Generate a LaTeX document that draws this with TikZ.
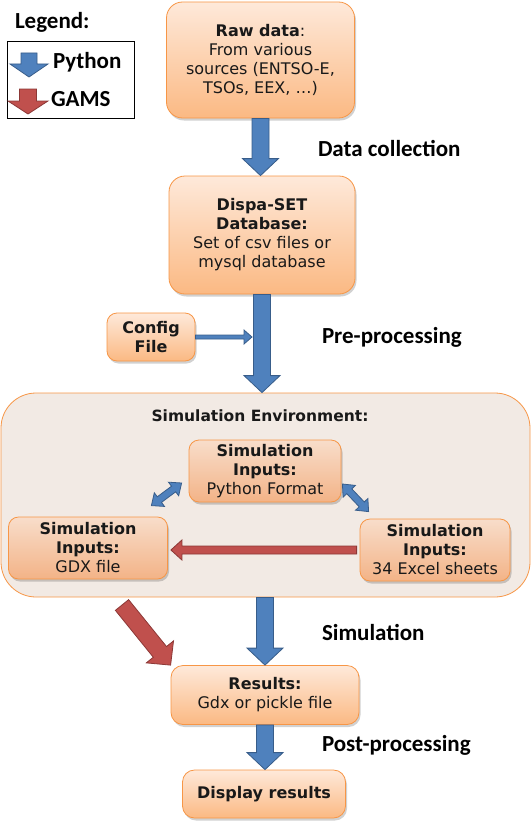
\documentclass[tikz,border=0pt]{standalone}
\usepackage{fontspec}
\setmainfont{DejaVu Sans}
\newfontfamily\calibri{Carlito}
\usepackage{xcolor}
\usepackage{tikz}
\usetikzlibrary{positioning}
\usetikzlibrary{calc}
\usetikzlibrary{shadows}

\definecolor{boxTop}{HTML}{FEE9DA}
\definecolor{boxBottom}{HTML}{FBB983}
\definecolor{boxEdge}{HTML}{F79646}
\definecolor{innerTop}{HTML}{F8DDCA}
\definecolor{innerBottom}{HTML}{F3B387}
\definecolor{envFill}{HTML}{F2EAE4}
\definecolor{pyFill}{HTML}{4F81BD}
\definecolor{pyEdge}{HTML}{385D8A}
\definecolor{gamsFill}{HTML}{C0504D}
\definecolor{gamsEdge}{HTML}{8C3836}

\newcommand{\boxFont}{\fontsize{16}{19}\selectfont}
\newcommand{\labelFont}{\calibri\bfseries\fontsize{23}{27}\selectfont}

% block arrow: style, from, to, half shaft, half head, head length
\newcommand{\blockArrow}[6]{%
	\coordinate (tipBase) at ($(#3)!#6!(#2)$);
	\draw[#1] ($(#2)!#4!90:(#3)$) -- ($(tipBase)!#4!90:(#3)$) -- ($(tipBase)!#5!90:(#3)$) -- (#3) -- ($(tipBase)!#5!-90:(#3)$) -- ($(tipBase)!#4!-90:(#3)$) -- ($(#2)!#4!-90:(#3)$) -- cycle;
}
% same with a head at both ends
\newcommand{\blockArrowBoth}[6]{%
	\coordinate (tipBaseA) at ($(#2)!#6!(#3)$);
	\coordinate (tipBaseB) at ($(#3)!#6!(#2)$);
	\draw[#1] (#2) -- ($(tipBaseA)!#5!90:(#3)$) -- ($(tipBaseA)!#4!90:(#3)$) -- ($(tipBaseB)!#4!90:(#3)$) -- ($(tipBaseB)!#5!90:(#3)$) -- (#3) -- ($(tipBaseB)!#5!-90:(#3)$) -- ($(tipBaseB)!#4!-90:(#3)$) -- ($(tipBaseA)!#4!-90:(#3)$) -- ($(tipBaseA)!#5!-90:(#3)$) -- cycle;
}

\begin{document}
\begin{tikzpicture}[
		mainBox/.style = { rectangle, rounded corners = 1.6*\oneUnit, draw = boxEdge, line width = 0.8pt, top color = boxTop, bottom color = boxBottom, text = black!90, align = center, font = \boxFont, inner sep = 2pt, drop shadow = {shadow xshift = 0.15*\oneUnit, shadow yshift = -0.25*\oneUnit, opacity = 0.18, fill = black} },
		innerBox/.style = { mainBox, rounded corners = 1.0*\oneUnit, top color = innerTop, bottom color = innerBottom },
		envBox/.style = { rectangle, rounded corners = 3.5*\oneUnit, draw = boxEdge, line width = 0.8pt, fill = envFill },
		legendBox/.style = { rectangle, draw = black, line width = 1pt },
		word/.style = { font = \labelFont, inner sep = 0pt, outer sep = 0pt, anchor = west, text = black },
		title/.style = { font = \fontsize{15.5}{18}\selectfont\bfseries, inner sep = 0pt, text = black!90 },
		pyArrow/.style = { fill = pyFill, draw = pyEdge, line width = 0.8pt },
		gamsArrow/.style = { fill = gamsFill, draw = gamsEdge, line width = 0.8pt },
	]
	\def\oneUnit{10pt}
	\useasboundingbox (0,0) rectangle (53.2*\oneUnit, -82.4*\oneUnit);
	
	% legend
	\node[word] (legendTitle) at (1.5*\oneUnit, -2.2*\oneUnit) {Legend:};
	\node[legendBox, minimum width = 12.7*\oneUnit, minimum height = 7.6*\oneUnit] (legend) at (7.05*\oneUnit, -8.0*\oneUnit) {};
	\coordinate (pyIconTop) at (2.9*\oneUnit, -5.3*\oneUnit);
	\coordinate (pyIconTip) at (2.9*\oneUnit, -7.7*\oneUnit);
	\coordinate (gamsIconTop) at (2.8*\oneUnit, -8.9*\oneUnit);
	\coordinate (gamsIconTip) at (2.8*\oneUnit, -11.4*\oneUnit);
	\node[word] (pythonWord) at (5.3*\oneUnit, -6.2*\oneUnit) {Python};
	\node[word] (gamsWord) at (5.1*\oneUnit, -9.9*\oneUnit) {GAMS};
	
	% main column
	\node[mainBox, minimum width = 18.8*\oneUnit, minimum height = 11.6*\oneUnit] (raw) at (26.05*\oneUnit, -6.0*\oneUnit) {\textbf{Raw data}:\\From various\\sources (ENTSO-E,\\TSOs, EEX, …)};
	\node[mainBox, minimum width = 18.6*\oneUnit, minimum height = 11.8*\oneUnit] (dispa) at (26.2*\oneUnit, -23.5*\oneUnit) {\textbf{Dispa-SET}\\\textbf{Database:}\\Set of csv files or\\mysql database};
	\node[mainBox, rounded corners = 1.0*\oneUnit, minimum width = 8.8*\oneUnit, minimum height = 4.8*\oneUnit] (config) at (15.1*\oneUnit, -33.7*\oneUnit) {\textbf{Config}\\\textbf{File}};
	
	% simulation environment
	\node[envBox, minimum width = 52.9*\oneUnit, minimum height = 20.4*\oneUnit] (env) at (26.55*\oneUnit, -49.5*\oneUnit) {};
	\node[title] (envTitle) at (26.0*\oneUnit, -41.6*\oneUnit) {Simulation Environment:};
	\node[innerBox, minimum width = 15.2*\oneUnit, minimum height = 6.2*\oneUnit] (simPy) at (26.5*\oneUnit, -47.1*\oneUnit) {\textbf{Simulation}\\\textbf{Inputs:}\\Python Format};
	\node[innerBox, minimum width = 15.9*\oneUnit, minimum height = 6.2*\oneUnit] (simGdx) at (8.8*\oneUnit, -54.8*\oneUnit) {\textbf{Simulation}\\\textbf{Inputs:}\\GDX file};
	\node[innerBox, minimum width = 15.0*\oneUnit, minimum height = 6.2*\oneUnit] (simXls) at (43.5*\oneUnit, -55.0*\oneUnit) {\textbf{Simulation}\\\textbf{Inputs:}\\34 Excel sheets};
	
	\node[mainBox, rounded corners = 1.2*\oneUnit, minimum width = 18.8*\oneUnit, minimum height = 5.9*\oneUnit] (results) at (26.5*\oneUnit, -69.5*\oneUnit) {\textbf{Results:}\\Gdx or pickle file};
	\node[mainBox, rounded corners = 1.2*\oneUnit, minimum width = 16.3*\oneUnit, minimum height = 4.8*\oneUnit] (display) at (26.4*\oneUnit, -79.4*\oneUnit) {\textbf{Display results}};
	
	% step labels
	\node[word] (collectLabel) at (31.8*\oneUnit, -14.8*\oneUnit) {Data collection};
	\node[word] (preLabel) at (32.2*\oneUnit, -33.7*\oneUnit) {Pre-processing};
	\node[word] (simLabel) at (32.2*\oneUnit, -63.2*\oneUnit) {Simulation};
	\node[word] (postLabel) at (32.2*\oneUnit, -74.5*\oneUnit) {Post-processing};
	
	% arrow ends
	\coordinate (dispaIn) at (raw.south |- dispa.north);
	\coordinate (envIn) at (dispa.south |- env.north);
	\coordinate (envOut) at (results.north |- env.south);
	\coordinate (displayIn) at (results.south |- display.north);
	\coordinate (configTip) at ($(config.east -| dispa.south) + (-1.0*\oneUnit, 0)$);
	\coordinate (xlsOut) at ($(simXls.west) + (-0.3*\oneUnit, 0)$);
	\coordinate (gdxIn) at ($(simGdx.east |- simXls.west) + (0.3*\oneUnit, 0)$);
	\coordinate (gamsStart) at (12.2*\oneUnit, -60.5*\oneUnit);
	\coordinate (pyLeftA) at ($(simPy.west) + (-0.7*\oneUnit, -1.2*\oneUnit)$);
	\coordinate (pyLeftB) at ($(simGdx.north east) + (-1.65*\oneUnit, 1.1*\oneUnit)$);
	\coordinate (pyRightA) at ($(simPy.east) + (0.1*\oneUnit, -1.3*\oneUnit)$);
	\coordinate (pyRightB) at ($(simXls.north west) + (0.9*\oneUnit, 0.7*\oneUnit)$);
	
	% arrows
	\blockArrow{pyArrow}{pyIconTop}{pyIconTip}{0.8*\oneUnit}{1.9*\oneUnit}{1.3*\oneUnit}
	\blockArrow{gamsArrow}{gamsIconTop}{gamsIconTip}{0.85*\oneUnit}{2.0*\oneUnit}{1.3*\oneUnit}
	\blockArrow{pyArrow}{raw.south}{dispaIn}{0.85*\oneUnit}{1.8*\oneUnit}{1.7*\oneUnit}
	\blockArrow{pyArrow}{dispa.south}{envIn}{0.85*\oneUnit}{1.8*\oneUnit}{1.7*\oneUnit}
	\blockArrow{pyArrow}{config.east}{configTip}{0.2*\oneUnit}{0.7*\oneUnit}{0.8*\oneUnit}
	\blockArrowBoth{pyArrow}{pyLeftA}{pyLeftB}{0.35*\oneUnit}{0.85*\oneUnit}{1.0*\oneUnit}
	\blockArrowBoth{pyArrow}{pyRightA}{pyRightB}{0.35*\oneUnit}{0.85*\oneUnit}{1.0*\oneUnit}
	\blockArrow{gamsArrow}{xlsOut}{gdxIn}{0.4*\oneUnit}{1.0*\oneUnit}{1.1*\oneUnit}
	\blockArrow{pyArrow}{envOut}{results.north}{0.85*\oneUnit}{1.8*\oneUnit}{1.7*\oneUnit}
	\blockArrow{gamsArrow}{gamsStart}{results.north west}{0.85*\oneUnit}{1.75*\oneUnit}{1.7*\oneUnit}
	\blockArrow{pyArrow}{results.south}{displayIn}{0.85*\oneUnit}{1.8*\oneUnit}{1.7*\oneUnit}
\end{tikzpicture}
\end{document}
